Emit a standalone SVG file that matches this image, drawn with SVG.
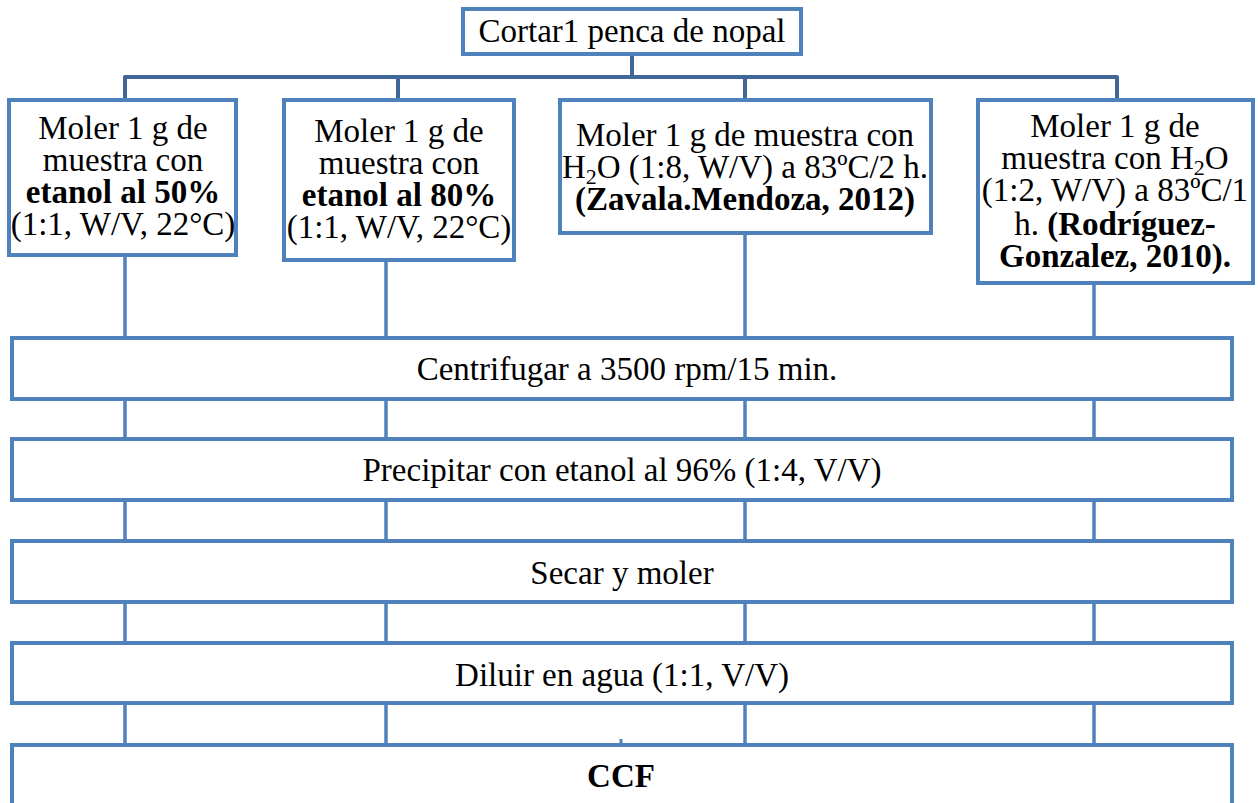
<svg xmlns="http://www.w3.org/2000/svg" width="1258" height="803" viewBox="0 0 1258 803">
<style>
.box{fill:#fff;stroke:#4f81bd;stroke-width:4}
.bus{fill:none;stroke:#41679a;stroke-width:4;stroke-linejoin:round}
.ln{fill:none;stroke:#4f81bd;stroke-width:3.5}
text{font-family:"Liberation Serif","Times New Roman",serif;font-size:33px;fill:#000;text-anchor:middle}
.b{font-weight:bold}
</style>
<rect width="1258" height="803" fill="#fff"/>
<g id="connectors">
<path class="bus" d="M632,54 V77 M125,100 V77 H1117 V100 M398,77 V100 M745,77 V100"/>
<path class="ln" d="M125,255 V338 M386,260 V338 M745,233 V338 M1094,283 V338"/>
<path class="ln" d="M125,399 V439 M386,399 V439 M745,399 V439 M1094,399 V439"/>
<path class="ln" d="M125,500 V541 M386,500 V541 M745,500 V541 M1094,500 V541"/>
<path class="ln" d="M125,602 V643 M386,602 V643 M745,602 V643 M1094,602 V643"/>
<path class="ln" d="M125,703 V745 M386,703 V745 M745,703 V745 M1094,703 V745"/>
<rect x="619.500" y="739" width="3" height="5" fill="#4f81bd"/>
</g>
<g id="n0"><rect class="box" x="463" y="9" width="338" height="45"/><text x="632" y="42">Cortar1 penca de nopal</text></g>
<g id="n1"><rect class="box" x="9" y="100" width="227" height="155"/>
<text x="123" y="139">Moler 1 g de</text><text x="123" y="171">muestra con</text><text x="123" y="203" class="b">etanol al 50%</text><text x="123" y="235">(1:1, W/V, 22°C)</text></g>
<g id="n2"><rect class="box" x="284" y="100" width="230" height="160"/>
<text x="399" y="142">Moler 1 g de</text><text x="399" y="174">muestra con</text><text x="399" y="206" class="b">etanol al 80%</text><text x="399" y="238">(1:1, W/V, 22°C)</text></g>
<g id="n3"><rect class="box" x="560" y="100" width="371" height="133"/>
<text x="745" y="146">Moler 1 g de muestra con</text><text x="745" y="178">H<tspan font-size="22" dy="6">2</tspan><tspan dy="-6">O (1:8, W/V) a 83ºC/2 h.</tspan></text><text x="745" y="210" class="b">(Zavala.Mendoza, 2012)</text></g>
<g id="n4"><rect class="box" x="978" y="100" width="275" height="183"/>
<text x="1115" y="137">Moler 1 g de</text><text x="1115" y="169">muestra con H<tspan font-size="22" dy="6">2</tspan><tspan dy="-6">O</tspan></text><text x="1115" y="201">(1:2, W/V) a 83ºC/1</text><text x="1115" y="235">h. <tspan class="b">(Rodríguez-</tspan></text><text x="1115" y="267" class="b">Gonzalez, 2010).</text></g>
<g id="n5"><rect class="box" x="12" y="338" width="1220" height="61"/><text x="627" y="380">Centrifugar a 3500 rpm/15 min.</text></g>
<g id="n6"><rect class="box" x="12" y="439" width="1220" height="61"/><text x="622" y="481">Precipitar con etanol al 96% (1:4, V/V)</text></g>
<g id="n7"><rect class="box" x="12" y="541" width="1220" height="61"/><text x="622" y="584">Secar y moler</text></g>
<g id="n8"><rect class="box" x="12" y="643" width="1220" height="60"/><text x="622" y="686">Diluir en agua (1:1, V/V)</text></g>
<g id="n9"><rect class="box" x="12" y="745" width="1220" height="100"/><text x="621" y="787" class="b">CCF</text></g>
</svg>
